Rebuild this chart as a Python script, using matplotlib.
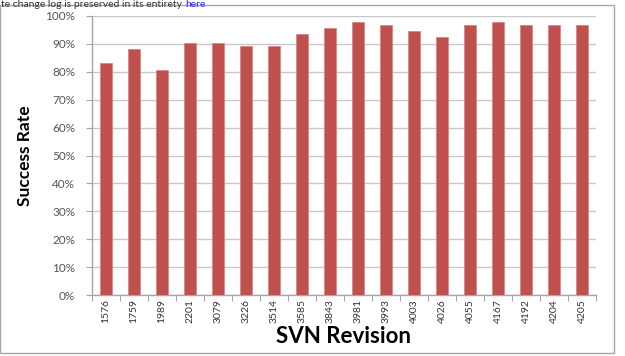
import matplotlib
matplotlib.use("Agg")
import matplotlib.pyplot as plt
from matplotlib.patches import Rectangle
from matplotlib.ticker import FuncFormatter

revisions = ["1576", "1759", "1989", "2201", "3079", "3226", "3514", "3585", "3843",
             "3981", "3993", "4003", "4026", "4055", "4167", "4192", "4204", "4205"]
success = [83.0, 88.3, 80.6, 90.2, 90.2, 89.3, 89.3, 93.5, 95.7,
           97.9, 96.9, 94.7, 92.5, 96.9, 97.9, 96.9, 96.9, 96.9]
yticks = list(range(0, 101, 10))

bar_color = "#c0504d"
grid_color = "#c8c8c8"
sans = ["Lato", "DejaVu Sans"]

fig = plt.figure(figsize=(6.25, 3.56), dpi=100)
fig.patch.set_facecolor("white")

# chart frame
fig.patches.append(Rectangle((0.0, 3 / 356), 614 / 625, 348 / 356, transform=fig.transFigure,
                             fill=False, edgecolor="#a6a6a6", linewidth=1.0))

# line of page text above the chart, with the link word in blue
head = fig.text(0.002, 0.999, "te change log is preserved in its entirety ", fontsize=7.5,
                family=sans, color="#333333", va="top", ha="left")
fig.canvas.draw()
bb = head.get_window_extent().transformed(fig.transFigure.inverted())
fig.text(bb.x1, 0.999, "here", fontsize=7.5, family=sans, color="#2020ff",
         va="top", ha="left")

ax = fig.add_axes([92 / 625, 1 - 295 / 356, 504 / 625, 279 / 356])
x = range(len(revisions))
ax.bar(x, success, width=0.42, color=bar_color, edgecolor="#d88886", linewidth=0.6, zorder=3)

ax.set_xlim(-0.5, len(revisions) - 0.5)
ax.set_ylim(0, 100)
ax.set_yticks(yticks)
ax.yaxis.set_major_formatter(FuncFormatter(lambda v, p: f"{int(v)}%"))
ax.grid(axis="y", color=grid_color, linewidth=1.0, zorder=0)

for s in ["top", "right"]:
    ax.spines[s].set_visible(False)
for s in ["left", "bottom"]:
    ax.spines[s].set_color("#a6a6a6")
    ax.spines[s].set_linewidth(1.0)

# ticks sit between categories, labels under each bar
ax.set_xticks([i - 0.5 for i in range(len(revisions) + 1)], minor=False)
ax.set_xticklabels([])
ax.set_xticks(list(x), minor=True)
ax.set_xticklabels(revisions, minor=True, rotation=90, fontsize=7.5,
                   family=sans, color="#333333")
ax.tick_params(axis="x", which="major", length=4, color="#a6a6a6", direction="out")
ax.tick_params(axis="x", which="minor", length=0, pad=3)
ax.tick_params(axis="y", length=4, color="#a6a6a6", labelsize=8.5, labelcolor="#555555", pad=8)
for lbl in ax.get_yticklabels():
    lbl.set_family(sans)

ax.set_ylabel("Success Rate", fontsize=12.5, fontweight="bold", family=sans, labelpad=9)
ax.set_xlabel("SVN Revision", fontsize=16, fontweight="bold", family=sans, labelpad=2)

fig.savefig("out.png", dpi=100)
